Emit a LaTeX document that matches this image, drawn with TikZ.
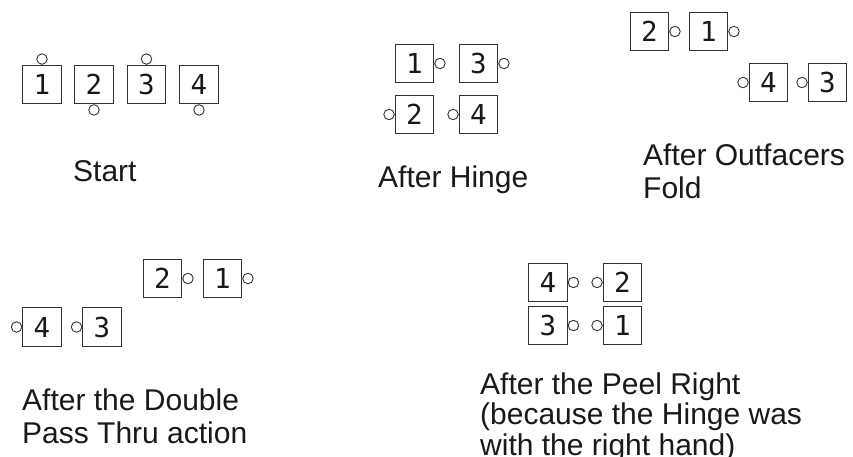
\documentclass[tikz,border=0pt]{standalone}
\usepackage{fontspec}
\setmainfont{Liberation Sans}
\newfontfamily\digitfont{DejaVu Sans Mono}
\begin{document}
\begin{tikzpicture}[x=1pt, y=-1pt,
  card/.style={draw=black!80, line width=1pt, minimum width=38.5pt, minimum height=38.5pt,
    inner sep=0pt, font=\digitfont\fontsize{27.5}{27.5}\selectfont, text=black!90},
  peg/.style={draw=black!80, line width=0.9pt, circle, minimum size=10.5pt, inner sep=0pt},
  % captions are placed by the baseline of their last line
  caption/.style={anchor=base west, align=left, inner sep=0pt,
    font=\fontsize{30}{33}\selectfont, text=black!90}]
\useasboundingbox (0,0) rectangle (853,457);

% --- Start ---
\node[card] (s1) at (42,84.5) {1};
\node[card] (s2) at (94,84.5) {2};
\node[card] (s3) at (146.5,84.5) {3};
\node[card] (s4) at (199,84.5) {4};
\node[peg, anchor=south] (s1p) at (s1.north) {};
\node[peg, anchor=north] (s2p) at (s2.south) {};
\node[peg, anchor=south] (s3p) at (s3.north) {};
\node[peg, anchor=north] (s4p) at (s4.south) {};
\node[caption] (startlbl) at (73,182) {Start};

% --- After Hinge ---
\node[card] (h1) at (414.5,63.5) {1};
\node[card] (h3) at (478.5,63.5) {3};
\node[card] (h2) at (414.5,114.5) {2};
\node[card] (h4) at (478.5,114.5) {4};
\node[peg, anchor=west] (h1p) at (h1.east) {};
\node[peg, anchor=west] (h3p) at (h3.east) {};
\node[peg, anchor=east] (h2p) at (h2.west) {};
\node[peg, anchor=east] (h4p) at (h4.west) {};
\node[caption] (hingelbl) at (378,187) {After Hinge};

% --- After Outfacers Fold ---
\node[card] (o2) at (649.5,31.5) {2};
\node[card] (o1) at (708.5,31.5) {1};
\node[card] (o4) at (768.5,82.5) {4};
\node[card] (o3) at (827.5,82.5) {3};
\node[peg, anchor=west] (o2p) at (o2.east) {};
\node[peg, anchor=west] (o1p) at (o1.east) {};
\node[peg, anchor=east] (o4p) at (o4.west) {};
\node[peg, anchor=east] (o3p) at (o3.west) {};
\node[caption] (foldlbl) at (643,198) {After Outfacers\\Fold};

% --- After the Double Pass Thru ---
\node[card] (d2) at (162.5,278.5) {2};
\node[card] (d1) at (222.5,278.5) {1};
\node[card] (d4) at (42,327) {4};
\node[card] (d3) at (102,327) {3};
\node[peg, anchor=west] (d2p) at (d2.east) {};
\node[peg, anchor=west] (d1p) at (d1.east) {};
\node[peg, anchor=east] (d4p) at (d4.west) {};
\node[peg, anchor=east] (d3p) at (d3.west) {};
\node[caption] (passlbl) at (22,443) {After the Double\\Pass Thru action};

% --- After the Peel Right ---
\node[card] (p4) at (548,282.5) {4};
\node[card] (p3) at (548,325.5) {3};
\node[card] (p2) at (622.5,282.5) {2};
\node[card] (p1) at (622.5,325.5) {1};
\node[peg, anchor=west] (p4p) at (p4.east) {};
\node[peg, anchor=west] (p3p) at (p3.east) {};
\node[peg, anchor=east] (p2p) at (p2.west) {};
\node[peg, anchor=east] (p1p) at (p1.west) {};
\node[caption, font=\fontsize{30}{30.5}\selectfont] (peellbl) at (480,455)
  {After the Peel Right\\(because the Hinge was\\with the right hand)};
\end{tikzpicture}
\end{document}
